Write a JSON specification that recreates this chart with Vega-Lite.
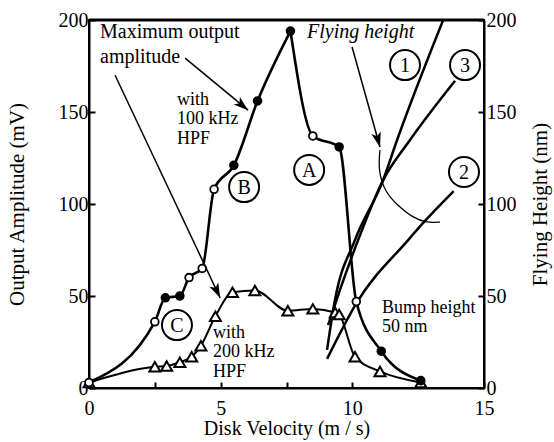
{
  "$schema": "https://vega.github.io/schema/vega-lite/v6.json",
  "width": 395,
  "height": 368,
  "autosize": {"type": "none"},
  "padding": {"left": 89, "top": 20, "right": 70, "bottom": 54},
  "background": "white",
  "config": {
    "view": {"stroke": "black", "strokeWidth": 2},
    "font": "Liberation Serif",
    "axis": {
      "labelFont": "Liberation Serif",
      "labelFontSize": 20,
      "labelColor": "black",
      "titleFont": "Liberation Serif",
      "titleFontSize": 20,
      "titleFontWeight": "normal",
      "titleColor": "black",
      "domainColor": "black",
      "domainWidth": 2,
      "tickColor": "black",
      "tickWidth": 2,
      "tickSize": -6,
      "grid": false,
      "labelFlush": false,
      "labelOverlap": false
    },
    "text": {"font": "Liberation Serif", "color": "black"}
  },
  "datasets": {
    "hpf100": [
      {"v": 0, "a": 3, "type": "open"},
      {"v": 2.5, "a": 36, "type": "open"},
      {"v": 2.9, "a": 49, "type": "solid"},
      {"v": 3.45, "a": 50, "type": "solid"},
      {"v": 3.8, "a": 60, "type": "open"},
      {"v": 4.3, "a": 65, "type": "open"},
      {"v": 4.75, "a": 108, "type": "open"},
      {"v": 5.5, "a": 121, "type": "solid"},
      {"v": 6.4, "a": 156, "type": "solid"},
      {"v": 7.65, "a": 194, "type": "solid"},
      {"v": 8.5, "a": 137, "type": "open"},
      {"v": 9.5, "a": 131, "type": "solid"},
      {"v": 10.15, "a": 47, "type": "open"},
      {"v": 11.1, "a": 20, "type": "solid"},
      {"v": 12.6, "a": 4, "type": "solid"}
    ],
    "hpf200": [
      {"v": 0, "a": 3},
      {"v": 2.5, "a": 11.5},
      {"v": 2.95, "a": 12},
      {"v": 3.45, "a": 14},
      {"v": 3.9, "a": 17},
      {"v": 4.25, "a": 23},
      {"v": 4.8, "a": 39},
      {"v": 5.45, "a": 52},
      {"v": 6.3, "a": 53},
      {"v": 7.55, "a": 42},
      {"v": 8.5, "a": 43},
      {"v": 9.35, "a": 41},
      {"v": 9.5, "a": 40},
      {"v": 10.1, "a": 17},
      {"v": 11.05, "a": 9},
      {"v": 12.6, "a": 3}
    ],
    "flying": [
      {"curve": "1", "v": 9.04, "h": 20.7},
      {"curve": "1", "v": 9.34, "h": 47.8},
      {"curve": "1", "v": 10.1, "h": 80.4},
      {"curve": "1", "v": 11.17, "h": 113},
      {"curve": "1", "v": 11.7, "h": 134.8},
      {"curve": "1", "v": 13.45, "h": 200},
      {"curve": "3", "v": 9.08, "h": 34.2},
      {"curve": "3", "v": 9.53, "h": 53.3},
      {"curve": "3", "v": 10.22, "h": 80.4},
      {"curve": "3", "v": 11.17, "h": 113},
      {"curve": "3", "v": 12.19, "h": 134.8},
      {"curve": "3", "v": 13.9, "h": 167},
      {"curve": "2", "v": 9.04, "h": 15.8},
      {"curve": "2", "v": 10.18, "h": 46.7},
      {"curve": "2", "v": 12.12, "h": 80.4},
      {"curve": "2", "v": 12.69, "h": 89.7},
      {"curve": "2", "v": 13.85, "h": 107}
    ],
    "arc": [
      {"v": 11.05, "a": 129.3},
      {"v": 10.98, "a": 118.5},
      {"v": 11.24, "a": 106.5},
      {"v": 11.7, "a": 99.5},
      {"v": 12.31, "a": 92.4},
      {"v": 12.84, "a": 89.7},
      {"v": 13.33, "a": 90.2}
    ],
    "arrows": [
      {"id": "a1", "v": 6.04, "a": 151, "v0": 3.65, "a0": 179.3},
      {"id": "a2", "v": 4.98, "a": 49, "v0": 0.99, "a0": 170},
      {"id": "a3", "v": 11.05, "a": 131, "v0": 9.99, "a0": 185.3}
    ],
    "notes": [
      {"group": "big", "v": 0.42, "a": 193.5, "label": "Maximum output"},
      {"group": "big", "v": 0.42, "a": 180, "label": "amplitude"},
      {"group": "italic", "v": 8.28, "a": 193.5, "label": "Flying height"},
      {"group": "small", "v": 3.34, "a": 156.5, "label": "with"},
      {"group": "small", "v": 3.34, "a": 146.2, "label": "100 kHz"},
      {"group": "small", "v": 3.34, "a": 135.3, "label": "HPF"},
      {"group": "small", "v": 4.71, "a": 29.9, "label": "with"},
      {"group": "small", "v": 4.71, "a": 19.6, "label": "200 kHz"},
      {"group": "small", "v": 4.71, "a": 8.7, "label": "HPF"},
      {"group": "small", "v": 11.13, "a": 43.5, "label": "Bump height"},
      {"group": "small", "v": 11.13, "a": 33.2, "label": "50 nm"}
    ],
    "circled": [
      {"v": 12.0, "a": 175.5, "label": "1"},
      {"v": 14.28, "a": 175.5, "label": "3"},
      {"v": 14.24, "a": 117.4, "label": "2"},
      {"v": 8.36, "a": 118.5, "label": "A"},
      {"v": 5.89, "a": 109.2, "label": "B"},
      {"v": 3.34, "a": 34.2, "label": "C"}
    ]
  },
  "layer": [
    {
      "data": {"name": "flying"},
      "mark": {"type": "line", "interpolate": "monotone", "strokeWidth": 2.5, "color": "black", "clip": true},
      "encoding": {
        "x": {
          "field": "v", "type": "quantitative",
          "scale": {"domain": [0, 15], "nice": false},
          "axis": {"orient": "bottom", "title": "Disk Velocity (m / s)", "values": [0, 2.5, 5, 7.5, 10, 12.5, 15], "labelExpr": "datum.value % 5 === 0 ? datum.label : ''", "labelPadding": 16, "titlePadding": 0}
        },
        "y": {
          "field": "h", "type": "quantitative",
          "scale": {"domain": [0, 200], "nice": false},
          "axis": {"orient": "right", "title": "Flying Height (nm)", "values": [0, 50, 100, 150, 200], "titleAngle": 270, "titleFontSize": 21, "labelPadding": 8, "titlePadding": 34}
        },
        "detail": {"field": "curve", "type": "nominal"}
      }
    },
    {
      "encoding": {
        "x": {
          "field": "v", "type": "quantitative",
          "scale": {"domain": [0, 15], "nice": false},
          "axis": {"orient": "bottom", "title": "Disk Velocity (m / s)", "values": [0, 2.5, 5, 7.5, 10, 12.5, 15], "labelExpr": "datum.value % 5 === 0 ? datum.label : ''", "labelPadding": 16, "titlePadding": 0}
        },
        "y": {
          "field": "a", "type": "quantitative",
          "scale": {"domain": [0, 200], "nice": false},
          "axis": {"orient": "left", "title": "Output Amplitude (mV)", "values": [0, 50, 100, 150, 200], "titleFontSize": 21, "labelPadding": 7, "titlePadding": 31}
        }
      },
      "layer": [
        {
          "data": {"values": [{"edge": "top", "v": 0, "v0": 15, "a": 200}]},
          "mark": {"type": "rule", "strokeWidth": 3, "color": "black"},
          "encoding": {"x2": {"field": "v0"}}
        },
        {
          "data": {"name": "hpf200"},
          "mark": {"type": "line", "interpolate": "monotone", "strokeWidth": 2, "color": "black"}
        },
        {
          "data": {"name": "hpf100"},
          "transform": [{"filter": "datum.v <= 7.65"}],
          "mark": {"type": "line", "interpolate": "monotone", "strokeWidth": 2.6, "color": "black"}
        },
        {
          "data": {"name": "hpf100"},
          "transform": [{"filter": "datum.v >= 7.65"}],
          "mark": {"type": "line", "interpolate": "monotone", "strokeWidth": 2.6, "color": "black"}
        },
        {
          "data": {"name": "hpf200"},
          "mark": {"type": "point", "shape": "triangle-up", "size": 120, "filled": true, "fill": "white", "stroke": "black", "strokeWidth": 2, "opacity": 1}
        },
        {
          "data": {"name": "hpf100"},
          "mark": {"type": "point", "shape": "circle", "size": 60, "filled": true, "stroke": "black", "strokeWidth": 1.8, "opacity": 1},
          "encoding": {
            "fill": {"field": "type", "type": "nominal", "scale": {"domain": ["solid", "open"], "range": ["black", "white"]}, "legend": null}
          }
        },
        {
          "data": {"name": "arc"},
          "mark": {"type": "line", "interpolate": "basis", "strokeWidth": 1.3, "color": "black"},
          "encoding": {"order": {"value": null}}
        },
        {
          "data": {"name": "arrows"},
          "mark": {"type": "rule", "strokeWidth": 1.5, "color": "black"},
          "encoding": {"x2": {"field": "v0"}, "y2": {"field": "a0"}}
        },
        {
          "data": {"name": "arrows"},
          "transform": [{"filter": "datum.id === 'a1'"}],
          "mark": {"type": "point", "shape": "M0,0L-0.4,1.2L0,0.9L0.4,1.2Z", "size": 600, "filled": true, "color": "black", "opacity": 1, "angle": 129.6}
        },
        {
          "data": {"name": "arrows"},
          "transform": [{"filter": "datum.id === 'a2'"}],
          "mark": {"type": "point", "shape": "M0,0L-0.4,1.2L0,0.9L0.4,1.2Z", "size": 600, "filled": true, "color": "black", "opacity": 1, "angle": 154.7}
        },
        {
          "data": {"name": "arrows"},
          "transform": [{"filter": "datum.id === 'a3'"}],
          "mark": {"type": "point", "shape": "M0,0L-0.4,1.2L0,0.9L0.4,1.2Z", "size": 600, "filled": true, "color": "black", "opacity": 1, "angle": 164.4}
        },
        {
          "data": {"name": "notes"},
          "transform": [{"filter": "datum.group === 'big'"}],
          "mark": {"type": "text", "align": "left", "baseline": "middle", "fontSize": 20, "font": "Liberation Serif"},
          "encoding": {"text": {"field": "label", "type": "nominal"}}
        },
        {
          "data": {"name": "notes"},
          "transform": [{"filter": "datum.group === 'italic'"}],
          "mark": {"type": "text", "align": "left", "baseline": "middle", "fontSize": 20, "fontStyle": "italic", "font": "Liberation Serif"},
          "encoding": {"text": {"field": "label", "type": "nominal"}}
        },
        {
          "data": {"name": "notes"},
          "transform": [{"filter": "datum.group === 'small'"}],
          "mark": {"type": "text", "align": "left", "baseline": "middle", "fontSize": 18, "font": "Liberation Serif"},
          "encoding": {"text": {"field": "label", "type": "nominal"}}
        },
        {
          "data": {"name": "circled"},
          "mark": {"type": "point", "shape": "circle", "size": 900, "filled": true, "fill": "white", "stroke": "black", "strokeWidth": 2, "opacity": 1}
        },
        {
          "data": {"name": "circled"},
          "mark": {"type": "text", "align": "center", "baseline": "middle", "fontSize": 20, "font": "Liberation Serif", "dy": 1},
          "encoding": {"text": {"field": "label", "type": "nominal"}}
        }
      ]
    }
  ],
  "resolve": {"scale": {"y": "independent"}}
}
